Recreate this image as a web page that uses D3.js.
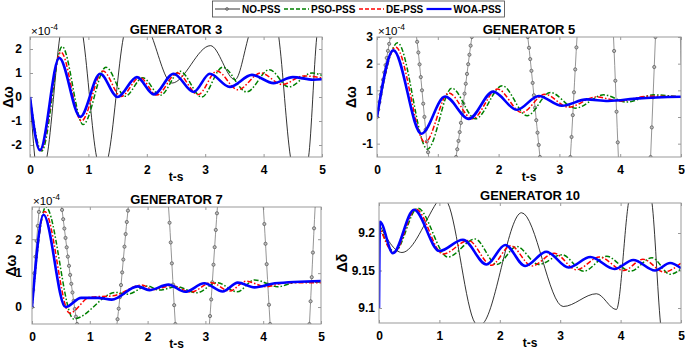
<!DOCTYPE html>
<html>
<head>
<meta charset="utf-8">
<title>PSS responses</title>
<style>
  body { margin: 0; background: #fff; }
  svg { font-family: "Liberation Sans", Arial, sans-serif; }
</style>
</head>
<body>
<svg width="685" height="353"></svg>
<script src="https://cdn.jsdelivr.net/npm/d3@7/dist/d3.min.js"></script>
<script>
// ---- data, [t (s), value] ----
const timeTicks = [0, 1, 2, 3, 4, 5]
const gen3Ticks = [-2, -1, 0, 1, 2]
const gen5Ticks = [-1, 0, 1, 2, 3]
const gen7Ticks = [0, 1, 2]
const gen10Ticks = [9.1, 9.15, 9.2]

const seriesNames = ["NO-PSS", "PSO-PSS", "DE-PSS", "WOA-PSS"]

// generator 3, dw x1e-4
const gen3No = [[0,0],[0.16,-3.6],[0.29,-2.5],[0.51,2.5],[0.7,5],[0.91,2.5],[1.14,-2.5],[1.24,-3.3],[1.34,-2.5],[1.6,2.5],[1.85,4.2],[2.09,2.5],[2.43,0.58],[3.09,2.14],[3.51,0.72],[3.74,2.5],[4.0,5],[4.26,2.5],[4.46,-2.5],[4.62,-3.8],[4.77,-2.5],[4.91,2.5],[5,4]]
const gen3Pso = [[0,0],[0.2,-2.25],[0.55,2.1],[0.91,-1.15],[1.3,1.24],[1.63,0.03],[1.93,0.8],[2.23,0.07],[2.57,1.07],[2.94,0.0],[3.3,1.24],[3.71,0.21],[4.1,1.14],[4.43,0.42],[4.83,1.0],[5,0.9]]
const gen3De = [[0,0],[0.18,-2.23],[0.53,1.87],[0.88,-1.0],[1.25,1.08],[1.56,0.02],[1.88,0.82],[2.17,0.08],[2.52,1.0],[2.88,0.1],[3.2,1.08],[3.56,0.3],[3.95,1.0],[4.32,0.52],[4.68,0.88],[5,0.8]]
const gen3Woa = [[0,0],[0.17,-2.22],[0.5,1.63],[0.86,-0.83],[1.2,0.97],[1.5,0.0],[1.83,0.83],[2.12,0.11],[2.46,0.97],[2.8,0.21],[3.08,0.97],[3.42,0.42],[3.8,0.92],[4.17,0.58],[4.5,0.83],[4.85,0.72],[5,0.74]]

// generator 5, dw x1e-4
const gen5No = [[0,0],[0.22,3],[0.43,5.5],[0.65,3],[0.85,-1.5],[1.07,-4],[1.3,-1.5],[1.56,3],[2.02,9],[2.48,3],[2.68,-1.5],[2.93,-7],[3.18,-1.5],[3.29,3],[3.59,12],[3.89,3],[3.97,-1.5],[4.25,-14],[4.5,-1.5],[4.58,3],[4.8,15],[4.99,3],[5,2]]
const gen5Pso = [[0,0],[0.34,2.78],[0.83,-1.21],[1.23,1.08],[1.62,-0.07],[2.06,1.17],[2.47,0.05],[2.85,0.92],[3.26,0.33],[3.73,0.83],[4.11,0.56],[4.55,0.83],[5,0.74]]
const gen5De = [[0,0],[0.31,2.62],[0.79,-0.95],[1.18,0.9],[1.57,-0.07],[1.98,1.05],[2.38,0.17],[2.76,0.85],[3.15,0.37],[3.6,0.75],[4.0,0.6],[4.45,0.78],[5,0.76]]
const gen5Woa = [[0,0],[0.27,2.5],[0.73,-0.63],[1.12,0.77],[1.51,-0.07],[1.91,0.95],[2.3,0.27],[2.66,0.79],[3.04,0.42],[3.45,0.66],[3.8,0.6],[4.3,0.7],[5,0.76]]

// generator 7, dw x1e-4
const gen7No = [[0,0],[0.13,3],[0.33,5.5],[0.51,3],[0.78,-0.5],[1.12,-3],[1.47,-0.5],[1.67,3],[2.02,7],[2.36,3],[2.48,-0.5],[2.78,-6],[3.07,-0.5],[3.21,3],[3.6,10],[4.0,3],[4.12,-0.5],[4.45,-8],[4.8,-0.5],[4.9,3],[5,6]]
const gen7Pso = [[0,0],[0.24,2.95],[0.72,-0.35],[1.45,0.43],[1.65,0.38],[2.0,0.62],[2.2,0.5],[2.5,0.6],[2.85,0.42],[3.2,0.72],[3.55,0.45],[3.85,0.8],[4.25,0.6],[4.6,0.74],[5,0.74]]
const gen7De = [[0,0],[0.22,2.82],[0.65,-0.18],[1.0,0.29],[1.4,0.33],[1.9,0.65],[2.1,0.52],[2.42,0.63],[2.75,0.44],[3.1,0.72],[3.42,0.47],[3.7,0.76],[4.05,0.6],[4.4,0.72],[5,0.72]]
const gen7Woa = [[0,0],[0.2,2.72],[0.58,0.0],[0.85,0.27],[1.15,0.27],[1.38,0.22],[1.83,0.61],[2.03,0.5],[2.36,0.66],[2.65,0.45],[2.98,0.7],[3.3,0.46],[3.56,0.72],[3.85,0.58],[4.2,0.7],[5,0.77]]

// generator 10, d delta
const gen10No = [[0,9.212],[0.38,9.174],[0.95,9.24],[1.045,9.252],[1.14,9.24],[1.59,9.08],[1.66,9.075],[1.73,9.08],[2.36,9.227],[3.05,9.102],[3.6,9.119],[3.93,9.098],[4.13,9.24],[4.33,9.3],[4.52,9.24],[4.66,9.08],[4.85,9.0],[5,9.04]]
const gen10Pso = [[0,9.212],[0.26,9.175],[0.64,9.233],[1.14,9.168],[1.59,9.192],[1.95,9.158],[2.28,9.182],[2.64,9.158],[3.03,9.171],[3.39,9.149],[3.77,9.169],[4.16,9.149],[4.52,9.167],[4.82,9.145],[5,9.152]]
const gen10De = [[0,9.212],[0.25,9.174],[0.61,9.232],[1.06,9.172],[1.48,9.19],[1.86,9.157],[2.18,9.183],[2.53,9.156],[2.9,9.173],[3.27,9.151],[3.65,9.168],[4.05,9.15],[4.37,9.165],[4.72,9.148],[5,9.16]]
const gen10Woa = [[0,9.1],[0.015,9.215],[0.23,9.173],[0.58,9.231],[1.0,9.176],[1.39,9.191],[1.78,9.158],[2.09,9.184],[2.42,9.156],[2.77,9.175],[3.14,9.154],[3.5,9.168],[3.9,9.152],[4.21,9.164],[4.57,9.15],[4.82,9.16],[5,9.153]]

// ---- layout ----
const panels = [
  {title: "GENERATOR 3", ylab: "Δω", exp: true, dots: false, ydom: [-2.5, 2.5], yticks: gen3Ticks,
   left: 30, right: 322, top: 37, bottom: 157, ylabX: 8, pad: 8, data: [gen3No, gen3Pso, gen3De, gen3Woa]},
  {title: "GENERATOR 5", ylab: "Δω", exp: true, dots: true, ydom: [-1.5, 3], yticks: gen5Ticks,
   left: 377, right: 681, top: 37, bottom: 157, ylabX: 351, pad: 4, data: [gen5No, gen5Pso, gen5De, gen5Woa]},
  {title: "GENERATOR 7", ylab: "Δω", exp: true, dots: true, ydom: [-0.5, 2.95], yticks: gen7Ticks,
   left: 32, right: 321, top: 207, bottom: 324, ylabX: 11, pad: 10, data: [gen7No, gen7Pso, gen7De, gen7Woa]},
  {title: "GENERATOR 10", ylab: "Δδ", exp: false, dots: false, ydom: [9.08, 9.24], yticks: gen10Ticks,
   left: 379, right: 681, top: 203, bottom: 323, ylabX: 342, pad: 4, data: [gen10No, gen10Pso, gen10De, gen10Woa]}
]

const styles = [
  {color: "#000", width: 0.8, dash: null},
  {color: "#008000", width: 1.5, dash: "5,2,1.5,2"},
  {color: "#ff0000", width: 1.5, dash: "5,2,1.5,2"},
  {color: "#0000ff", width: 2.6, dash: null}
]

const svg = d3.select("svg")
svg.append("rect").attr("width", 685).attr("height", 353).attr("fill", "#fff")

// markers every dt seconds along a drawn path
function sampleMarkers(node, x, dt) {
  const len = node.getTotalLength()
  const pts = []
  let prev = node.getPointAtLength(0)
  pts.push(prev)
  let k = 1
  for (let l = 0.5; l <= len; l += 0.5) {
    const p = node.getPointAtLength(l)
    while (k * dt <= 5 + 1e-9 && x(k * dt) <= p.x) {
      const xt = x(k * dt)
      const f = p.x === prev.x ? 0 : (xt - prev.x) / (p.x - prev.x)
      pts.push({x: xt, y: prev.y + f * (p.y - prev.y)})
      k++
    }
    prev = p
  }
  return pts
}

function styleAxis(sel) {
  sel.attr("font-size", 12).attr("font-family", null).attr("font-weight", "bold")
  sel.select(".domain").remove()
  sel.selectAll(".tick line").attr("stroke", "#999")
  sel.selectAll(".tick text").attr("fill", "#000")
}

panels.forEach((p, i) => {
  const x = d3.scaleLinear().domain([0, 5]).range([p.left, p.right])
  const y = d3.scaleLinear().domain(p.ydom).range([p.bottom, p.top])
  const g = svg.append("g")

  g.append("clipPath").attr("id", "clip" + i).append("rect")
    .attr("x", p.left).attr("y", p.top)
    .attr("width", p.right - p.left).attr("height", p.bottom - p.top)

  // axes, ticks inside the box on all four sides
  g.append("g").attr("transform", `translate(0,${p.bottom})`)
    .call(d3.axisBottom(x).tickValues(timeTicks).tickSizeInner(-3).tickSizeOuter(0).tickPadding(8).tickFormat(d => d))
    .call(styleAxis)
  g.append("g").attr("transform", `translate(0,${p.top})`)
    .call(d3.axisTop(x).tickValues(timeTicks).tickSizeInner(-3).tickSizeOuter(0).tickFormat(""))
    .call(styleAxis)
  g.append("g").attr("transform", `translate(${p.left},0)`)
    .call(d3.axisLeft(y).tickValues(p.yticks).tickSizeInner(-3).tickSizeOuter(0).tickPadding(p.pad).tickFormat(d => String(d)))
    .call(styleAxis)
  g.append("g").attr("transform", `translate(${p.right},0)`)
    .call(d3.axisRight(y).tickValues(p.yticks).tickSizeInner(-3).tickSizeOuter(0).tickFormat(""))
    .call(styleAxis)

  // curves
  const line = d3.line().x(d => x(d[0])).y(d => y(d[1])).curve(d3.curveMonotoneX)
  const plot = g.append("g").attr("clip-path", `url(#clip${i})`)
  p.data.forEach((s, j) => {
    const st = styles[j]
    const path = plot.append("path").datum(s)
      .attr("fill", "none")
      .attr("stroke", j === 0 && p.dots ? "#7a7a7a" : st.color)
      .attr("stroke-width", st.width)
      .attr("stroke-dasharray", st.dash)
      .attr("stroke-linejoin", "round")
      .attr("d", line)
    if (j === 0 && p.dots) {
      const pts = sampleMarkers(path.node(), x, 0.02)
      plot.append("g").selectAll("circle").data(pts).enter().append("circle")
        .attr("cx", d => d.x).attr("cy", d => d.y).attr("r", 1.6)
        .attr("fill", "#bdbdbd").attr("stroke", "#505050").attr("stroke-width", 0.7)
    }
  })

  // box
  g.append("rect").attr("x", p.left).attr("y", p.top)
    .attr("width", p.right - p.left).attr("height", p.bottom - p.top)
    .attr("fill", "none").attr("stroke", "#999").attr("stroke-width", 1)

  // texts
  g.append("text").attr("x", (p.left + p.right) / 2).attr("y", p.top - 3)
    .attr("text-anchor", "middle").attr("font-size", 13).attr("font-weight", "bold")
    .text(p.title)
  g.append("text").attr("x", (p.left + p.right) / 2).attr("y", p.bottom + 24)
    .attr("text-anchor", "middle").attr("font-size", 12).attr("font-weight", "bold")
    .text("t-s")
  g.append("text")
    .attr("transform", `translate(${p.ylabX},${(p.top + p.bottom) / 2}) rotate(-90)`)
    .attr("text-anchor", "middle").attr("dy", "0.35em")
    .attr("font-size", 14).attr("font-weight", "bold")
    .text(p.ylab)
  if (p.exp) {
    const t = g.append("text").attr("x", p.left + 1).attr("y", p.top - 2).attr("font-size", 11.5)
    t.append("tspan").text("×10")
    t.append("tspan").attr("dy", -5).attr("font-size", 8.5).text("-4")
  }
})

// legend
const leg = svg.append("g")
leg.append("rect").attr("x", 212.5).attr("y", 1).attr("width", 292).attr("height", 16)
  .attr("fill", "#fff").attr("stroke", "#444").attr("stroke-width", 0.8)
const legX = [215, 284, 359, 426.5]
seriesNames.forEach((name, j) => {
  const st = styles[j]
  const x0 = legX[j]
  leg.append("line").attr("x1", x0).attr("x2", x0 + 25).attr("y1", 9).attr("y2", 9)
    .attr("stroke", st.color).attr("stroke-width", j === 3 ? 2.2 : (j === 0 ? 0.8 : 1.5))
    .attr("stroke-dasharray", j === 0 || j === 3 ? null : "4,2")
  if (j === 0) {
    leg.append("circle").attr("cx", x0 + 12).attr("cy", 9).attr("r", 1.4)
      .attr("fill", "#999").attr("stroke", "#333").attr("stroke-width", 0.5)
  }
  leg.append("text").attr("x", x0 + 27).attr("y", 12.6)
    .attr("font-size", 10).attr("font-weight", "bold").text(name)
})
</script>
</body>
</html>
